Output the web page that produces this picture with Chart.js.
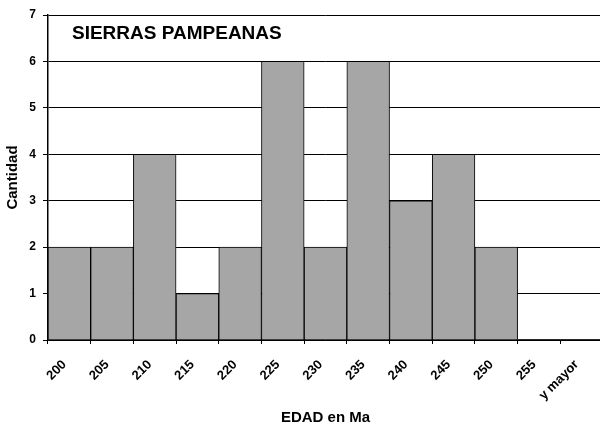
<!DOCTYPE html>
<html>
<head>
<meta charset="utf-8">
<script src="https://cdn.jsdelivr.net/npm/chart.js@4/dist/chart.umd.min.js"></script>
<style>
  html, body { margin: 0; padding: 0; background: #fff; overflow: hidden; }
  /* plot runs a little past the right edge, like the original */
  #wrap { width: 603px; height: 427px; }
</style>
</head>
<body>
<div id="wrap"><canvas id="chart"></canvas></div>
<script>
const categories = ['200', '205', '210', '215', '220', '225', '230', '235', '240', '245', '250', '255', 'y mayor']
const counts = [2, 2, 4, 1, 2, 6, 2, 6, 3, 4, 2, 0, 0]
const chartTitle = 'SIERRAS PAMPEANAS'
const xTitle = 'EDAD en Ma'
const yTitle = 'Cantidad'

const FONT = "'Liberation Sans', Arial, sans-serif"

// title sits inside the plot area, top-left
const innerTitle = {
  id: 'innerTitle',
  afterDraw(chart) {
    const { ctx, chartArea } = chart
    ctx.save()
    ctx.font = 'bold 19px ' + FONT
    ctx.fillStyle = '#000'
    ctx.textBaseline = 'middle'
    ctx.fillText(chartTitle, chartArea.left + 24, chartArea.top + 19)
    ctx.restore()
  }
}

new Chart(document.getElementById('chart'), {
  type: 'bar',
  data: {
    labels: categories,
    datasets: [{
      data: counts,
      backgroundColor: '#a6a6a6',
      borderColor: '#000',
      borderWidth: c => (c.raw === 0 ? 0 : 1),
      categoryPercentage: 1,
      barPercentage: 1
    }]
  },
  options: {
    responsive: true,
    maintainAspectRatio: false,
    animation: false,
    events: [],
    layout: { padding: { top: 15, right: 0, bottom: 0, left: 0 } },
    plugins: {
      legend: { display: false },
      tooltip: { enabled: false }
    },
    scales: {
      x: {
        offset: true,
        afterFit: s => {
          s.height = 87
          s.paddingLeft = 0
          s.paddingRight = 0
        },
        grid: { offset: true, drawOnChartArea: false, color: '#000', tickLength: 4 },
        border: { color: '#000', width: 1.5 },
        ticks: {
          color: '#000',
          font: { family: FONT, size: 13, weight: 'bold' },
          minRotation: 45,
          maxRotation: 45,
          autoSkip: false,
          labelOffset: -5,
          padding: 13
        },
        title: {
          display: true,
          text: xTitle,
          color: '#000',
          font: { family: FONT, size: 15, weight: 'bold' },
          padding: { top: 0, bottom: 0 }
        }
      },
      y: {
        min: 0,
        max: 7,
        afterFit: s => { s.width = 48 },
        grid: { color: '#000', lineWidth: 1, tickLength: 5 },
        border: { color: '#000', width: 1.5 },
        ticks: {
          stepSize: 1,
          color: '#000',
          padding: 7,
          font: { family: FONT, size: 12, weight: 'bold' }
        },
        title: {
          display: true,
          text: yTitle,
          color: '#000',
          font: { family: FONT, size: 15, weight: 'bold' },
          padding: { top: 4, bottom: 0 }
        }
      }
    }
  },
  plugins: [innerTitle]
})
</script>
</body>
</html>
